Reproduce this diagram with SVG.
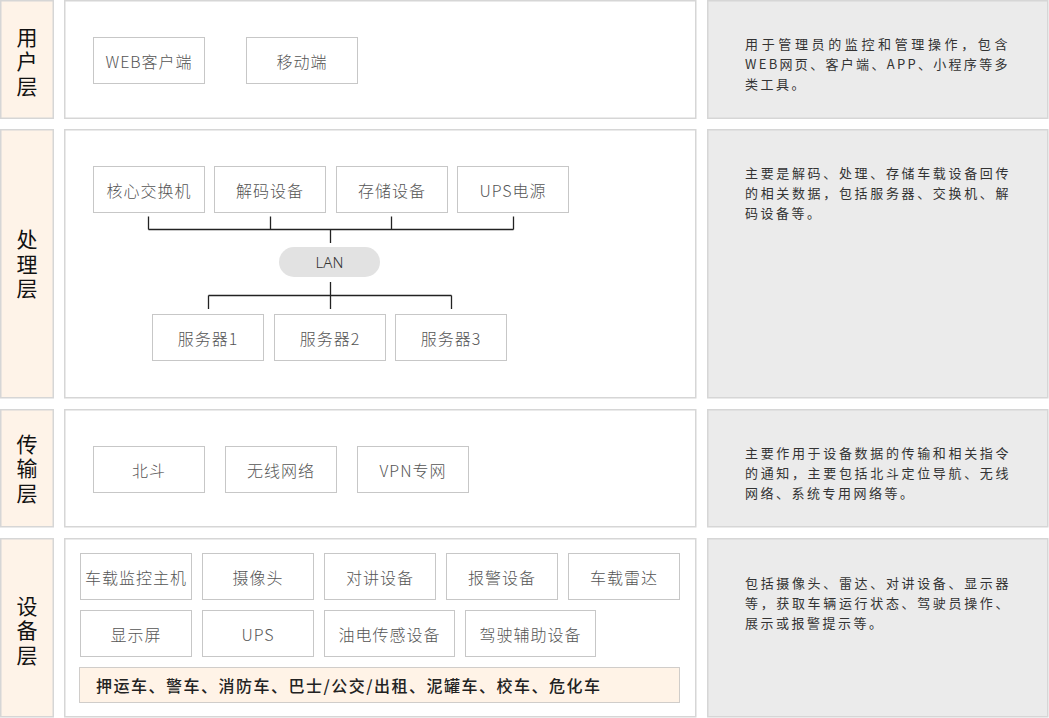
<svg xmlns="http://www.w3.org/2000/svg" width="1049" height="718" viewBox="0 0 1049 718">
<style>
.lbl{fill:#FEF3E8;stroke:#D6D6D6;stroke-width:1.5}
.main{fill:#FFFFFF;stroke:#D6D6D6;stroke-width:1.5}
.desc{fill:#EBEBEB;stroke:#D6D6D6;stroke-width:1.5}
.box{fill:#FFFFFF;stroke:#8E8E8E;stroke-width:1;stroke-dasharray:1 1}
.bar{fill:#FFF3E7;stroke:#A0A0A0;stroke-width:1;stroke-dasharray:1 1}
.lan{fill:#E2E2E2}
.lt{font-family:"Noto Sans CJK SC","Noto Sans",sans-serif;font-size:21px;fill:#111;text-anchor:middle;writing-mode:vertical-rl;letter-spacing:3.5px}
.bt{font-family:"Noto Sans CJK SC","Noto Sans",sans-serif;font-size:16px;font-weight:300;fill:#555;letter-spacing:1px;text-anchor:middle;dominant-baseline:central}
.bart{font-family:"Noto Sans CJK SC","Noto Sans",sans-serif;font-size:16px;font-weight:500;fill:#222;letter-spacing:1.5px;dominant-baseline:central}
.dt{font-family:"Noto Sans CJK SC","Noto Sans",sans-serif;font-size:13px;fill:#333;letter-spacing:2.5px;dominant-baseline:central}
.lant{font-family:"Noto Sans","Noto Sans CJK SC",sans-serif;font-size:15px;font-weight:300;fill:#333;text-anchor:middle;dominant-baseline:central}
.conn{stroke:#222;stroke-width:1.3;fill:none}
</style>

<!-- Layer 1: 用户层 -->
<g id="layer-user">
<rect class="lbl" x="0.75" y="0.75" width="52.5" height="117.5"/>
<text class="lt" x="27" y="63">用户层</text>
<rect class="main" x="64.75" y="0.75" width="631" height="117.5"/>
<rect class="desc" x="707.75" y="0.75" width="340" height="117.5"/>
<text class="dt" x="745" y="43" textLength="265" lengthAdjust="spacing">用于管理员的监控和管理操作，包含</text>
<text class="dt" x="745" y="63" textLength="265" lengthAdjust="spacing">WEB网页、客户端、APP、小程序等多</text>
<text class="dt" x="745" y="83">类工具。</text>
</g>
<g id="node-web"><rect class="box" x="93.5" y="37.5" width="111" height="46"/><text class="bt" x="149" y="60.5">WEB客户端</text></g>
<g id="node-mobile"><rect class="box" x="246.5" y="37.5" width="111" height="46"/><text class="bt" x="302" y="60.5">移动端</text></g>

<!-- Layer 2: 处理层 -->
<g id="layer-process">
<rect class="lbl" x="0.75" y="129.75" width="52.5" height="268"/>
<text class="lt" x="27" y="265.5">处理层</text>
<rect class="main" x="64.75" y="129.75" width="631" height="268"/>
<rect class="desc" x="707.75" y="129.75" width="340" height="268"/>
<text class="dt" x="745" y="172" textLength="266" lengthAdjust="spacing">主要是解码、处理、存储车载设备回传</text>
<text class="dt" x="745" y="192" textLength="266" lengthAdjust="spacing">的相关数据，包括服务器、交换机、解</text>
<text class="dt" x="745" y="212">码设备等。</text>
</g>
<g id="node-switch"><rect class="box" x="93.5" y="166.5" width="111" height="46"/><text class="bt" x="149" y="189.5">核心交换机</text></g>
<g id="node-decoder"><rect class="box" x="214.5" y="166.5" width="111" height="46"/><text class="bt" x="270" y="189.5">解码设备</text></g>
<g id="node-storage"><rect class="box" x="336.5" y="166.5" width="111" height="46"/><text class="bt" x="392" y="189.5">存储设备</text></g>
<g id="node-ups-power"><rect class="box" x="457.5" y="166.5" width="111" height="46"/><text class="bt" x="513" y="189.5">UPS电源</text></g>
<g id="node-lan"><rect class="lan" x="279" y="247" width="101" height="30" rx="15"/><text class="lant" x="329.5" y="262">LAN</text></g>
<g id="node-server1"><rect class="box" x="152.5" y="314.5" width="111" height="46"/><text class="bt" x="208" y="337.5">服务器1</text></g>
<g id="node-server2"><rect class="box" x="274.5" y="314.5" width="111" height="46"/><text class="bt" x="330" y="337.5">服务器2</text></g>
<g id="node-server3"><rect class="box" x="395.5" y="314.5" width="111" height="46"/><text class="bt" x="451" y="337.5">服务器3</text></g>

<g id="connectors">
<path class="conn" d="M148.5 216.5V229.5M270.5 216.5V229.5M391.5 216.5V229.5M513.5 216.5V229.5M148.5 229.5H513.5M330.5 229.5V243"/>
<path class="conn" d="M330.5 282V295.5M208.5 295.5H451.5M208.5 295.5V309M330.5 295.5V309M451.5 295.5V309"/>
</g>

<!-- Layer 3: 传输层 -->
<g id="layer-transport">
<rect class="lbl" x="0.75" y="409.75" width="52.5" height="117"/>
<text class="lt" x="27" y="470">传输层</text>
<rect class="main" x="64.75" y="409.75" width="631" height="117"/>
<rect class="desc" x="707.75" y="409.75" width="340" height="117"/>
<text class="dt" x="745" y="452" textLength="266" lengthAdjust="spacing">主要作用于设备数据的传输和相关指令</text>
<text class="dt" x="745" y="472" textLength="266" lengthAdjust="spacing">的通知，主要包括北斗定位导航、无线</text>
<text class="dt" x="745" y="492">网络、系统专用网络等。</text>
</g>
<g id="node-beidou"><rect class="box" x="93.5" y="446.5" width="111" height="46"/><text class="bt" x="149" y="469.5">北斗</text></g>
<g id="node-wireless"><rect class="box" x="225.5" y="446.5" width="111" height="46"/><text class="bt" x="281" y="469.5">无线网络</text></g>
<g id="node-vpn"><rect class="box" x="357.5" y="446.5" width="111" height="46"/><text class="bt" x="413" y="469.5">VPN专网</text></g>

<!-- Layer 4: 设备层 -->
<g id="layer-device">
<rect class="lbl" x="0.75" y="538.75" width="52.5" height="178"/>
<text class="lt" x="27" y="632">设备层</text>
<rect class="main" x="64.75" y="538.75" width="631" height="178"/>
<rect class="desc" x="707.75" y="538.75" width="340" height="178"/>
<text class="dt" x="745" y="582" textLength="266" lengthAdjust="spacing">包括摄像头、雷达、对讲设备、显示器</text>
<text class="dt" x="745" y="602" textLength="266" lengthAdjust="spacing">等，获取车辆运行状态、驾驶员操作、</text>
<text class="dt" x="745" y="622">展示或报警提示等。</text>
</g>
<g id="node-host"><rect class="box" x="80.5" y="553.5" width="111" height="46"/><text class="bt" x="136" y="576.5">车载监控主机</text></g>
<g id="node-camera"><rect class="box" x="202.5" y="553.5" width="111" height="46"/><text class="bt" x="258" y="576.5">摄像头</text></g>
<g id="node-intercom"><rect class="box" x="324.5" y="553.5" width="111" height="46"/><text class="bt" x="380" y="576.5">对讲设备</text></g>
<g id="node-alarm"><rect class="box" x="446.5" y="553.5" width="111" height="46"/><text class="bt" x="502" y="576.5">报警设备</text></g>
<g id="node-radar"><rect class="box" x="568.5" y="553.5" width="111" height="46"/><text class="bt" x="624" y="576.5">车载雷达</text></g>
<g id="node-display"><rect class="box" x="80.5" y="610.5" width="111" height="46"/><text class="bt" x="136" y="633.5">显示屏</text></g>
<g id="node-ups"><rect class="box" x="202.5" y="610.5" width="111" height="46"/><text class="bt" x="258" y="633.5">UPS</text></g>
<g id="node-sensor"><rect class="box" x="324.5" y="610.5" width="130" height="46"/><text class="bt" x="389.5" y="633.5">油电传感设备</text></g>
<g id="node-adas"><rect class="box" x="465.5" y="610.5" width="130" height="46"/><text class="bt" x="530.5" y="633.5">驾驶辅助设备</text></g>
<g id="node-vehicles"><rect class="bar" x="79.5" y="667.5" width="600" height="35"/><text class="bart" x="96" y="685">押运车、警车、消防车、巴士/公交/出租、泥罐车、校车、危化车</text></g>
</svg>
